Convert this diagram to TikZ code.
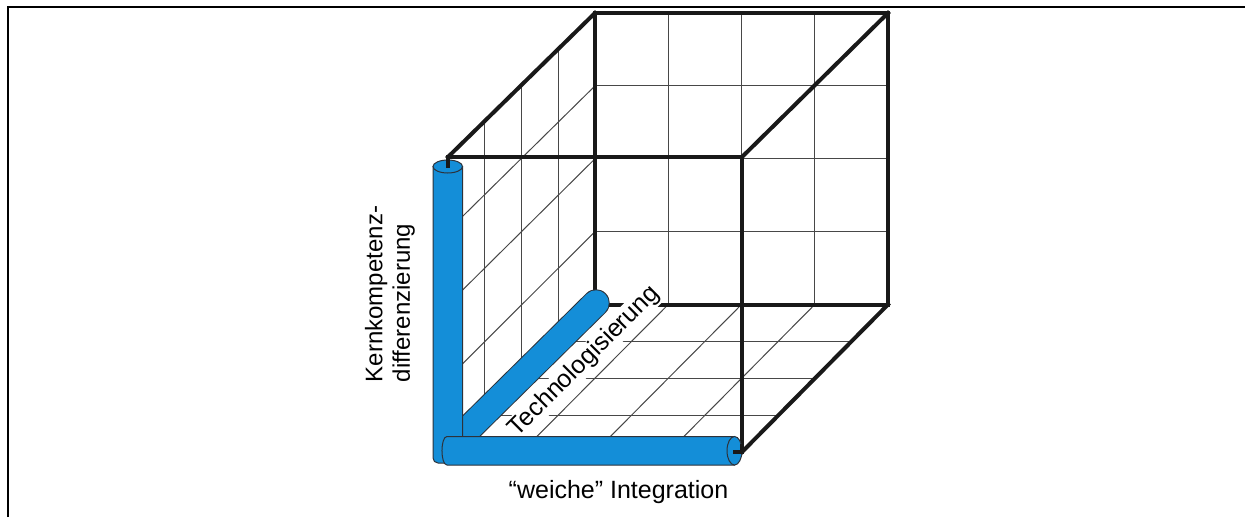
\documentclass[tikz,border=0pt]{standalone}
\usepackage{fontspec}
\setmainfont{Liberation Sans}
\usetikzlibrary{calc}
\definecolor{tubeblue}{RGB}{20,142,216}
\definecolor{tubeline}{RGB}{45,50,58}
\begin{document}
\begin{tikzpicture}[x=1pt,y=-1pt,
  edge/.style={line width=4pt, black!90, line cap=rect, line join=miter},
  gridline/.style={line width=1pt, black!72},
  tubeshape/.style={fill=tubeblue, draw=tubeline, line width=1pt},
  lbl/.style={font=\fontsize{24}{27.5}\selectfont, inner sep=0pt, text=black},
  lblbig/.style={font=\fontsize{25}{28}\selectfont, inner sep=0pt, text=black}]
\useasboundingbox (0,0) rectangle (1245,517);
% frame
\draw[line width=2pt] (7.7,517) -- (7.7,7) -- (1245,7);
% cube vertices
\coordinate (FTL) at (448,157);
\coordinate (FTR) at (742,157);
\coordinate (FBR) at (742,452);
\coordinate (FBL) at (448,452);
\coordinate (BTL) at (595,13);
\coordinate (BTR) at (888,13);
\coordinate (BBR) at (888,304.5);
\coordinate (BBL) at (595,304.5);
% grids
\foreach \k in {1,2,3} {
  \draw[gridline] ($(BTL)!\k/4!(BTR)$) -- ($(BBL)!\k/4!(BBR)$);
  \draw[gridline] ($(BTL)!\k/4!(BBL)$) -- ($(BTR)!\k/4!(BBR)$);
  \draw[gridline] ($(FTL)!\k/4!(BTL)$) -- ($(FBL)!\k/4!(BBL)$);
  \draw[gridline] ($(FTL)!\k/4!(FBL)$) -- ($(BTL)!\k/4!(BBL)$);
  \draw[gridline] ($(FBL)!\k/4!(FBR)$) -- ($(BBL)!\k/4!(BBR)$);
  \draw[gridline] ($(FBL)!\k/4!(BBL)$) -- ($(FBR)!\k/4!(BBR)$);
}
% cube edges
\draw[edge] (BTL) -- (BTR) -- (BBR) -- (BBL) -- cycle;
\draw[edge] (FTL) -- (FTR) -- (FBR) -- (FBL) -- cycle;
\draw[edge] (FTL) -- (BTL);
\draw[edge] (FTR) -- (BTR);
\draw[edge] (FBR) -- (BBR);
\draw[edge] (FBL) -- (BBL);
% label on floor
\node[lblbig, rotate=45, anchor=base, fill=white, inner sep=1.5pt] (tech) at (589,366) {Technologisierung};
% diagonal tube
\coordinate (DA) at (447,450);
\coordinate (DB) at (596,303);
\draw[line width=27.5pt, tubeline, line cap=round] (DA) -- (DB);
\draw[line width=25.5pt, tubeblue, line cap=round] (DA) -- (DB);
% vertical tube
\path[tubeshape] (462.5,166.5) -- (433,166.5) [rounded corners=5pt] -- (433,463) -- (462.5,463) [sharp corners] -- cycle;
\draw[tubeshape] (447.75,166.5) ellipse [x radius=14.75, y radius=6.5];
% horizontal tube
\path[tubeshape] (447,436.5) -- (734.5,436.5) -- (734.5,465) -- (447,465) .. controls (440.3,465) and (440.3,436.5) .. (447,436.5) -- cycle;
\draw[tubeshape] (734.5,450.75) ellipse [x radius=7.5, y radius=14.25];
% edge stubs over tubes
\coordinate (TS) at (448,166);
\coordinate (RS) at (735,452);
\draw[edge] (FTL) -- (TS);
\draw[edge] (742,446) -- (FBR) -- (RS);
% labels
\node[lbl, rotate=90, align=left] (kern) at (390,294) {Kernkompetenz-\\differenzierung};
\node[lblbig, anchor=base] (weich) at (618.5,498) {“weiche” Integration};
\end{tikzpicture}
\end{document}
